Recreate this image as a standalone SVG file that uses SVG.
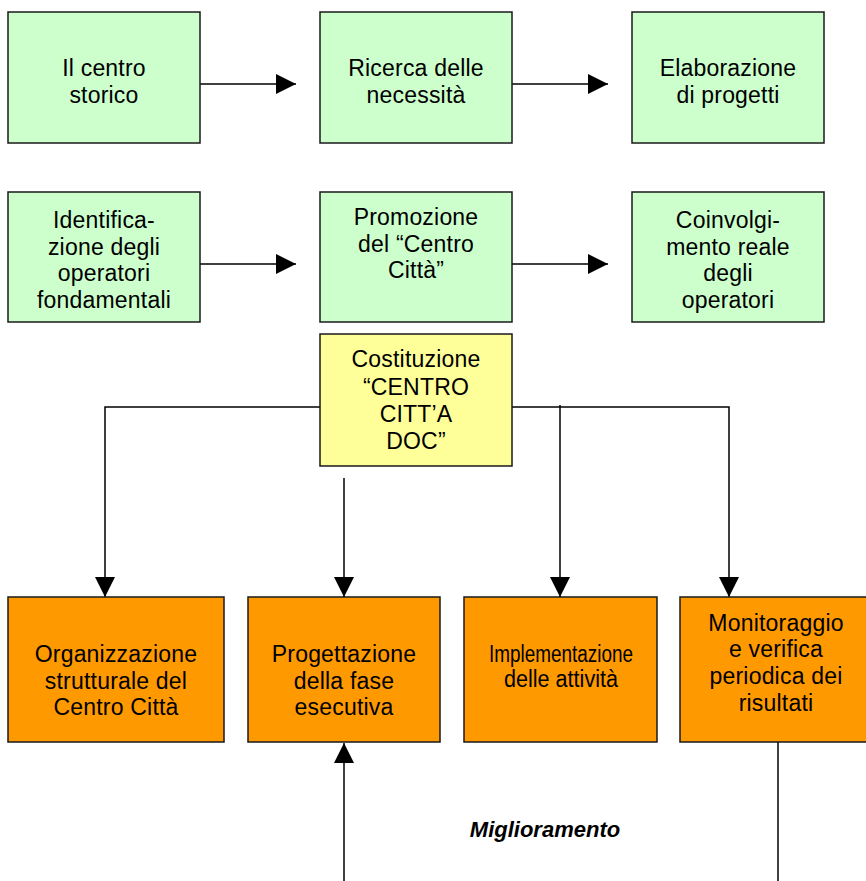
<svg xmlns="http://www.w3.org/2000/svg" width="866" height="881" viewBox="0 0 866 881">
<style>
  .box { stroke: #1a1a1a; stroke-width: 1.5; }
  .green { fill: #CCFFCC; }
  .yellow { fill: #FFFF99; }
  .orange { fill: #FF9900; }
  text { font-family: "Liberation Sans", Arial, sans-serif; font-size: 23px; fill: #000; text-anchor: middle; letter-spacing: 0.2px; }
  .conn { stroke: #000; stroke-width: 1.5; fill: none; }
  .em { font-size: 22px; font-weight: bold; font-style: italic; letter-spacing: 0; }
</style>
<defs>
  <marker id="ah" markerUnits="userSpaceOnUse" markerWidth="20" markerHeight="20" refX="20" refY="10" orient="auto" viewBox="0 0 20 20">
    <path d="M0,0 L20,10 L0,20 Z" fill="#000"/>
  </marker>
</defs>
<rect width="866" height="881" fill="#fff"/>

<g id="connectors">
  <line class="conn" x1="200" y1="84" x2="296" y2="84" marker-end="url(#ah)"/>
  <line class="conn" x1="512" y1="84" x2="608" y2="84" marker-end="url(#ah)"/>
  <line class="conn" x1="200" y1="264" x2="296" y2="264" marker-end="url(#ah)"/>
  <line class="conn" x1="512" y1="264" x2="608" y2="264" marker-end="url(#ah)"/>
  <polyline class="conn" points="320,407 105,407 105,597" marker-end="url(#ah)"/>
  <polyline class="conn" points="512,407 729,407 729,597" marker-end="url(#ah)"/>
  <line class="conn" x1="560" y1="405" x2="560" y2="597" marker-end="url(#ah)"/>
  <line class="conn" x1="344" y1="478" x2="344" y2="597" marker-end="url(#ah)"/>
  <line class="conn" x1="344" y1="881" x2="344" y2="743" marker-end="url(#ah)"/>
  <line class="conn" x1="778" y1="742" x2="778" y2="881"/>
</g>

<g id="centro-storico">
  <rect class="box green" x="8" y="12" width="192" height="131"/>
  <text x="104" y="76">Il centro</text>
  <text x="104" y="103">storico</text>
</g>
<g id="ricerca">
  <rect class="box green" x="320" y="12" width="192" height="131"/>
  <text x="416" y="76">Ricerca delle</text>
  <text x="416" y="103">necessità</text>
</g>
<g id="elaborazione">
  <rect class="box green" x="632" y="12" width="192" height="131"/>
  <text x="728" y="76">Elaborazione</text>
  <text x="728" y="103">di progetti</text>
</g>

<g id="identificazione">
  <rect class="box green" x="8" y="192" width="192" height="130"/>
  <text x="104" y="228">Identifica-</text>
  <text x="104" y="255">zione degli</text>
  <text x="104" y="281">operatori</text>
  <text x="104" y="308">fondamentali</text>
</g>
<g id="promozione">
  <rect class="box green" x="320" y="192" width="192" height="130"/>
  <text x="416" y="225">Promozione</text>
  <text x="416" y="252">del “Centro</text>
  <text x="416" y="278">Città”</text>
</g>
<g id="coinvolgimento">
  <rect class="box green" x="632" y="192" width="192" height="130"/>
  <text x="728" y="228">Coinvolgi-</text>
  <text x="728" y="255">mento reale</text>
  <text x="728" y="281">degli</text>
  <text x="728" y="308">operatori</text>
</g>

<g id="costituzione">
  <rect class="box yellow" x="320" y="334" width="192" height="132"/>
  <text x="416" y="367">Costituzione</text>
  <text x="416" y="395">“CENTRO</text>
  <text x="416" y="422">CITT’A</text>
  <text x="416" y="449">DOC”</text>
</g>

<g id="organizzazione">
  <rect class="box orange" x="8" y="597" width="216" height="145"/>
  <text x="116" y="662">Organizzazione</text>
  <text x="116" y="689">strutturale del</text>
  <text x="116" y="715">Centro Città</text>
</g>
<g id="progettazione">
  <rect class="box orange" x="248" y="597" width="192" height="145"/>
  <text x="344" y="662">Progettazione</text>
  <text x="344" y="689">della fase</text>
  <text x="344" y="715">esecutiva</text>
</g>
<g id="implementazione">
  <rect class="box orange" x="464" y="597" width="193" height="145"/>
  <text x="561" y="662" textLength="144" lengthAdjust="spacingAndGlyphs" style="letter-spacing:0">Implementazione</text>
  <text x="561" y="687" textLength="114" lengthAdjust="spacingAndGlyphs" style="letter-spacing:0">delle attività</text>
</g>
<g id="monitoraggio">
  <rect class="box orange" x="680" y="597" width="192" height="145"/>
  <text x="776" y="631">Monitoraggio</text>
  <text x="776" y="657">e verifica</text>
  <text x="776" y="684">periodica dei</text>
  <text x="776" y="711">risultati</text>
</g>

<g id="miglioramento">
  <text class="em" x="545" y="837">Miglioramento</text>
</g>
</svg>
